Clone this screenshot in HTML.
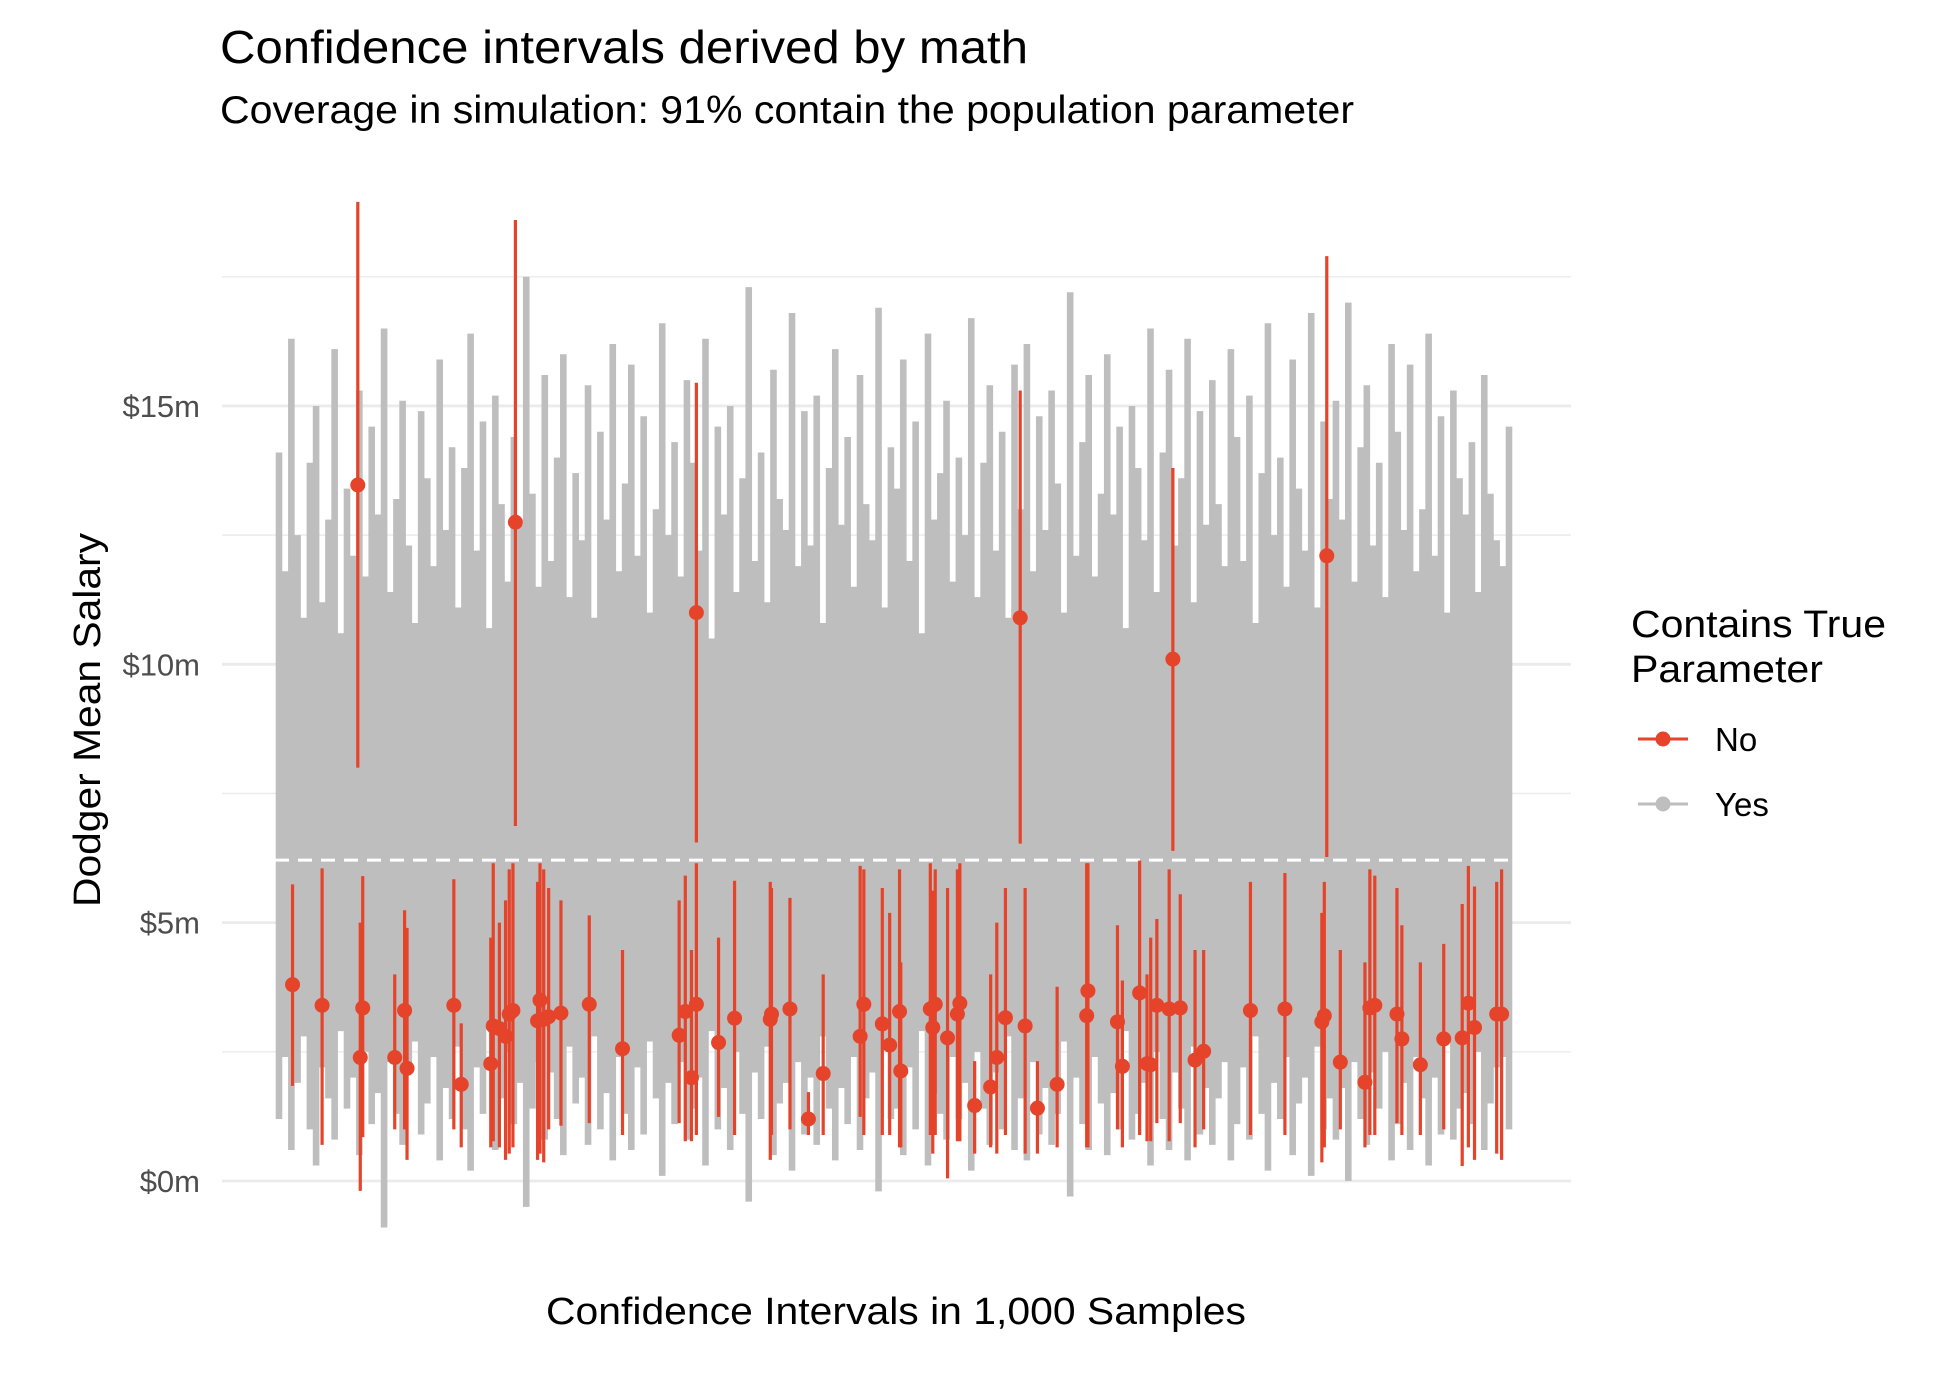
<!DOCTYPE html>
<html><head><meta charset="utf-8"><style>
html,body{margin:0;padding:0;background:#fff;}
svg{display:block;font-family:"Liberation Sans",Arial,sans-serif;}
</style></head><body>
<svg id="chart" width="1934" height="1376" viewBox="0 0 1934 1376">
<text x="220" y="63" font-size="46" textLength="808" lengthAdjust="spacingAndGlyphs" fill="#000">Confidence intervals derived by math</text>
<text x="220" y="123" font-size="39" textLength="1134" lengthAdjust="spacingAndGlyphs" fill="#000">Coverage in simulation: 91% contain the population parameter</text>
<g id="grid"></g>
<g id="yticks"></g>
<g id="grey"></g>
<line id="truth" stroke="#fff" stroke-width="3" stroke-dasharray="14,9"></line>
<g id="red"></g>
<text transform="translate(100,720) rotate(-90)" text-anchor="middle" font-size="38" textLength="374" lengthAdjust="spacingAndGlyphs" fill="#000">Dodger Mean Salary</text>
<text x="896" y="1324" text-anchor="middle" font-size="38" textLength="700" lengthAdjust="spacingAndGlyphs" fill="#000">Confidence Intervals in 1,000 Samples</text>
<g>
<text x="1631" y="637" font-size="38" textLength="255" lengthAdjust="spacingAndGlyphs" fill="#000">Contains True</text>
<text x="1631" y="682" font-size="38" textLength="192" lengthAdjust="spacingAndGlyphs" fill="#000">Parameter</text>
<g>
<line x1="1638" y1="739" x2="1688" y2="739" stroke="#e5432a" stroke-width="3"/>
<circle cx="1663" cy="739" r="7.5" fill="#e5432a"/>
<text x="1715" y="751" font-size="33" fill="#000">No</text>
</g>
<g>
<line x1="1638" y1="804" x2="1688" y2="804" stroke="#bebebe" stroke-width="3"/>
<circle cx="1663" cy="804" r="7.5" fill="#bebebe"/>
<text x="1715" y="816" font-size="33" fill="#000">Yes</text>
</g>
</g>
</svg>
<script>
const yTickValues = [0, 5, 10, 15];
const yTickLabels = ["$0m", "$5m", "$10m", "$15m"];
const yMinorValues = [2.5, 7.5, 12.5, 17.5];
const trueParam = 6.21;

const redIdx = [65,193,340,603,727,852,12,36,67,69,95,103,105,143,149,173,175,180,185,188,191,211,213,216,220,230,253,280,326,331,336,340,358,371,400,401,416,431,443,473,476,491,497,505,506,530,532,534,544,552,554,566,579,584,591,607,617,633,657,658,682,686,700,706,709,714,724,733,745,752,790,818,848,850,863,883,887,891,909,913,928,947,962,967,972,990,994];
const redMean = [13.47,12.75,11.0,10.9,10.1,12.1,3.8,3.4,2.39,3.35,2.39,3.3,2.18,3.4,1.87,2.27,3.0,2.95,2.8,3.23,3.3,3.1,3.5,3.13,3.18,3.25,3.42,2.56,2.82,3.28,2.0,3.42,2.68,3.15,3.13,3.23,3.33,1.2,2.08,2.8,3.42,3.04,2.63,3.28,2.13,3.33,2.97,3.42,2.77,3.23,3.44,1.46,1.82,2.39,3.16,3.0,1.41,1.87,3.2,3.68,3.08,2.22,3.64,2.27,2.25,3.4,3.33,3.35,2.34,2.51,3.3,3.33,3.08,3.2,2.3,1.91,3.35,3.4,3.23,2.75,2.25,2.75,2.77,3.44,2.97,3.23,3.23];
const redLo = [8.0,6.87,6.55,6.53,6.39,6.27,1.84,0.7,-0.19,0.85,1.0,1.0,0.41,1.0,0.65,0.65,0.77,0.65,0.41,0.53,0.65,0.41,0.53,0.36,1.0,1.07,1.12,0.89,1.12,0.77,0.77,0.89,1.24,0.89,0.41,0.89,1.0,0.89,0.89,1.24,0.89,0.89,0.89,0.65,0.65,0.89,0.53,0.89,0.05,0.77,0.77,0.53,0.65,0.53,0.89,0.53,0.53,0.65,0.65,0.65,1.0,0.65,0.89,0.77,0.77,1.12,0.77,1.12,0.65,1.0,0.89,0.89,0.36,0.65,1.0,0.65,0.89,0.89,1.12,0.89,0.89,1.0,0.29,0.65,0.41,0.53,0.41];
const redHi = [18.95,18.6,15.45,15.3,13.8,17.9,5.74,6.05,5.0,5.9,4.0,5.24,4.9,5.84,3.05,4.71,6.15,5.0,5.43,6.03,6.15,5.79,6.15,6.03,5.67,5.43,5.14,4.47,5.43,5.91,4.47,6.15,4.71,5.81,5.79,5.67,5.48,1.72,4.0,6.1,6.03,5.67,5.19,6.03,4.23,6.15,5.62,6.03,5.67,6.03,6.15,2.32,4.0,5.0,5.67,5.67,2.32,3.76,6.15,6.15,4.95,3.88,6.2,4.0,4.71,5.07,6.03,5.55,4.47,4.47,5.79,5.96,5.19,5.79,4.47,4.23,6.03,5.91,5.67,4.95,4.23,4.59,5.36,6.1,5.7,5.79,6.03];

const greyHi = [14.1,11.8,16.3,12.5,10.9,13.9,15.0,11.2,12.8,16.1,10.6,13.4,12.1,15.3,11.7,14.6,12.9,16.5,11.4,13.2,15.1,12.3,10.8,14.9,13.6,11.9,15.9,12.6,14.2,11.1,13.8,16.4,12.2,14.7,10.7,15.2,13.1,11.6,14.4,12.7,17.5,13.3,11.5,15.6,12.0,14.0,16.0,11.3,13.7,12.4,15.4,10.9,14.5,12.8,16.2,11.8,13.5,15.8,12.1,14.8,11.0,13.0,16.6,12.5,14.3,11.7,15.5,13.9,12.2,16.3,10.5,14.6,12.9,15.0,11.4,13.6,17.3,12.0,14.1,11.2,15.7,13.2,12.6,16.8,11.9,14.9,12.3,15.2,10.8,13.8,16.1,12.7,14.4,11.5,15.6,13.1,12.4,16.9,11.1,14.2,13.4,15.9,12.0,14.7,10.6,16.4,12.8,13.7,15.1,11.6,14.0,12.5,16.7,11.3,13.9,15.4,12.2,14.5,10.9,15.8,13.0,16.2,11.8,14.8,12.6,15.3,13.5,11.0,17.2,12.1,14.3,15.6,11.7,13.3,16.0,12.9,14.6,10.7,15.0,13.8,12.4,16.5,11.4,14.1,15.7,12.3,13.6,16.3,11.2,14.9,12.7,15.5,13.1,11.9,16.1,14.4,12.0,15.2,10.8,13.7,16.6,12.5,14.0,11.5,15.9,13.4,12.2,16.8,11.1,14.7,13.2,15.1,12.8,17.0,11.6,14.2,15.4,12.3,13.9,11.3,16.2,14.5,12.6,15.8,11.8,13.0,16.4,12.1,14.8,11.0,15.3,13.6,12.9,14.3,11.4,15.6,13.3,12.4,11.9,14.6];
const greyLo = [1.2,2.4,0.6,1.9,2.8,1.0,0.3,2.2,1.6,0.8,2.9,1.4,2.0,0.5,2.5,1.1,1.7,-0.9,2.3,1.3,0.7,2.1,2.7,0.9,1.5,2.4,0.4,1.8,1.2,2.6,1.0,0.2,2.2,1.3,3.0,0.6,1.6,2.5,1.1,1.9,-0.5,1.4,2.3,0.8,2.1,1.2,0.5,2.6,1.5,2.0,0.7,2.8,1.0,1.7,0.4,2.4,1.3,0.6,2.2,0.9,2.7,1.6,0.1,1.9,1.1,2.3,0.8,1.4,2.0,0.3,2.9,1.0,1.8,0.6,2.5,1.3,-0.4,2.1,1.2,2.6,0.5,1.5,1.9,0.2,2.3,0.9,2.0,0.7,2.8,1.4,0.4,1.8,1.1,2.4,0.6,1.6,2.1,-0.2,2.6,1.2,1.4,0.5,2.2,1.0,2.9,0.3,1.7,1.3,0.8,2.4,1.2,1.9,0.2,2.5,1.4,0.7,2.1,1.0,2.8,0.6,1.6,0.4,2.3,0.9,1.8,0.7,1.3,2.7,-0.3,2.0,1.1,0.6,2.4,1.5,0.5,1.7,1.0,2.9,0.8,1.3,1.9,0.3,2.5,1.2,0.6,2.1,1.4,0.4,2.6,0.9,1.8,0.7,1.6,2.3,0.4,1.1,2.2,0.8,2.8,1.3,0.2,1.9,1.2,2.4,0.5,1.5,2.0,0.1,2.6,1.0,1.6,0.8,1.8,0.0,2.3,1.2,0.7,2.1,1.4,2.5,0.4,1.1,1.9,0.6,2.4,1.6,0.3,2.0,0.9,2.7,0.8,1.4,1.7,1.1,2.5,0.6,1.5,2.2,2.4,1.0];

const NS = "http://www.w3.org/2000/svg";
const plotL = 222, plotR = 1571;
function xScale(i){ return 279 + (i - 1) / 999 * 1230; }
function yScale(v){ return 1181 - v * 51.67; }
function mk(tag, attrs, parent){ const e = document.createElementNS(NS, tag); for (const k in attrs) e.setAttribute(k, attrs[k]); parent.appendChild(e); return e; }

const grid = document.getElementById('grid');
yMinorValues.forEach(v => {
  const l = mk('line', {x1: plotL, x2: plotR, y1: yScale(v), y2: yScale(v), stroke: '#ebebeb', 'stroke-width': 1.4}, grid);
  
  
});
const yt = document.getElementById('yticks');
yTickValues.forEach((v, k) => {
  const l = mk('line', {x1: plotL, x2: plotR, y1: yScale(v), y2: yScale(v), stroke: '#ebebeb', 'stroke-width': 2.8}, grid);
  
  
  const t = mk('text', {x: 200, y: yScale(v) + 11, 'text-anchor': 'end', 'font-size': 31, fill: '#4d4d4d'}, yt);
  t.textContent = yTickLabels[k];
  
  
});

const grey = document.getElementById('grey');
const nG = greyHi.length;
for (let k = 0; k < nG; k++) {
  const i = 1 + k * 999 / (nG - 1);
  const x = xScale(i);
  const l = mk('line', {x1: x, x2: x, y1: yScale(greyLo[k]), y2: yScale(greyHi[k]), stroke: '#bebebe', 'stroke-width': 6.6}, grey);
  
  
  const c = mk('circle', {cx: x, cy: yScale((greyLo[k] + greyHi[k]) / 2), r: 3, fill: '#bebebe'}, grey);
  
  
}

const truth = document.getElementById('truth');
truth.setAttribute('x1', xScale(1) - 4);
truth.setAttribute('x2', xScale(1000) + 4);
truth.setAttribute('y1', yScale(trueParam));
truth.setAttribute('y2', yScale(trueParam));

const red = document.getElementById('red');
redIdx.forEach((i, k) => {
  const x = xScale(i);
  const l = mk('line', {x1: x, x2: x, y1: yScale(redLo[k]), y2: yScale(redHi[k]), stroke: '#e5432a', 'stroke-width': 3.2}, red);
  
  
  const c = mk('circle', {cx: x, cy: yScale(redMean[k]), r: 7.5, fill: '#e5432a'}, red);
  
  
});
</script>
</body></html>
